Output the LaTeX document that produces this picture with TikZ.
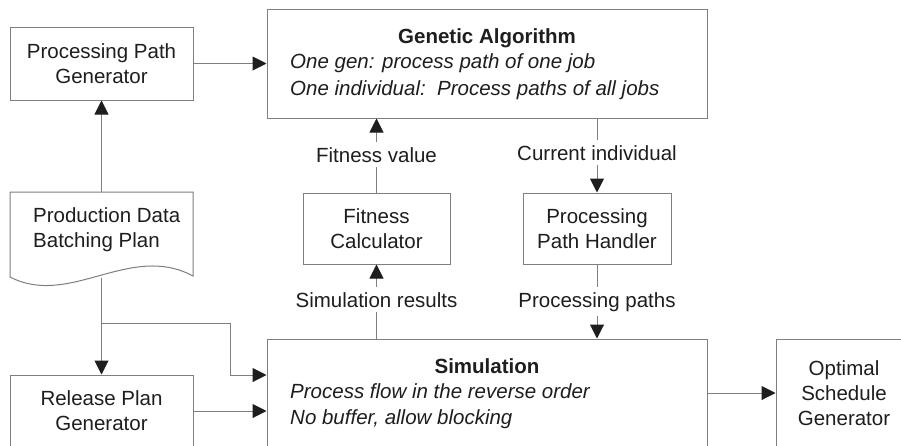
\documentclass[tikz,border=0pt]{standalone}
\usepackage{fontspec}
\setmainfont{Liberation Sans}
\usetikzlibrary{arrows.meta}
\definecolor{linegray}{HTML}{7F7F7F}
\definecolor{ink}{HTML}{1E1E1E}

\begin{document}
\begin{tikzpicture}[x=1pt,y=-1pt,
  every node/.style={text=ink, font=\fontsize{20.5}{25}\selectfont, inner sep=0pt},
  box/.style={draw=linegray, line width=1pt, align=center},
  conn/.style={draw=linegray, line width=1pt, -{Triangle[length=14pt,width=14pt,color=ink]}},
  wire/.style={draw=linegray, line width=1pt},
  lbl/.style={fill=white, inner xsep=2pt, inner ysep=5pt, anchor=base},
  heading/.style={font=\fontsize{20.5}{25}\selectfont\bfseries, anchor=base},
  note/.style={font=\fontsize{20.5}{25}\selectfont\itshape, anchor=base west}]

\useasboundingbox (0,0) rectangle (901,445);
\clip (0,0) rectangle (901,445);
\fill[white] (0,0) rectangle (901,445);

% upper row
\node[box, minimum width=183pt, minimum height=73pt] (ppg) at (101.5,63.5) {Processing Path\\Generator};
\node[box, minimum width=440pt, minimum height=109pt] (ga) at (487,63.5) {};
\node[heading] (gatitle) at (487,43) {Genetic Algorithm};
\node[note] (ganote1) at (290,68) {One gen: process path of one job};
\node[note] (ganote2) at (290,95) {One individual:\ \ Process paths of all jobs};

% middle row
\node[box, minimum width=147pt, minimum height=71pt] (fc) at (376.5,228.5) {Fitness\\Calculator};
\node[box, minimum width=148pt, minimum height=71pt] (pph) at (597,228.5) {Processing\\Path Handler};

% production data document
\coordinate (doctop) at (101.5,192);
\coordinate (docbot) at (101.5,277.5);
\draw[wire, fill=white] (10,192) -- (193,192) -- (193,276)
  .. controls (130,242) and (70,308) .. (10,277) -- cycle;
\node[anchor=base west, align=left] (doctext) at (33,247) {Production Data\\Batching Plan};

% lower row (boxes run past the lower edge)
\node[box, minimum width=183pt, minimum height=72pt] (rpg) at (101.5,411) {Release Plan\\Generator};
\node[box, minimum width=440pt, minimum height=108pt] (sim) at (487,393) {};
\node[heading] (simtitle) at (487,373) {Simulation};
\node[note] (simnote1) at (290,398) {Process flow in the reverse order};
\node[note] (simnote2) at (290,424) {No buffer, allow blocking};
\node[box, minimum width=136pt, minimum height=108pt] (osg) at (844,393) {Optimal\\Schedule\\Generator};

% connectors
\draw[conn] (doctop) -- (ppg.south);
\draw[conn] (ppg.east) -- (ppg.east -| ga.west);
\draw[conn] (docbot) -- (rpg.north);
\coordinate (split) at (101.5,323);
\coordinate (jog) at (230,375);
\draw[conn] (split) -| (jog) -- (jog -| sim.west);
\draw[conn] (rpg.east) -- (rpg.east -| sim.west);
\draw[conn] (sim.east) -- (osg.west);

\draw[conn] (fc.south |- sim.north) -- (fc.south);
\node[lbl] (simres) at (376.5,307) {Simulation results};
\draw[conn] (fc.north) -- (fc.north |- ga.south);
\node[lbl] (fitval) at (376.5,162) {Fitness value};
\draw[conn] (pph.north |- ga.south) -- (pph.north);
\node[lbl] (curind) at (597,160) {Current individual};
\draw[conn] (pph.south) -- (pph.south |- sim.north);
\node[lbl] (procpaths) at (597,307) {Processing paths};
\end{tikzpicture}
\end{document}
